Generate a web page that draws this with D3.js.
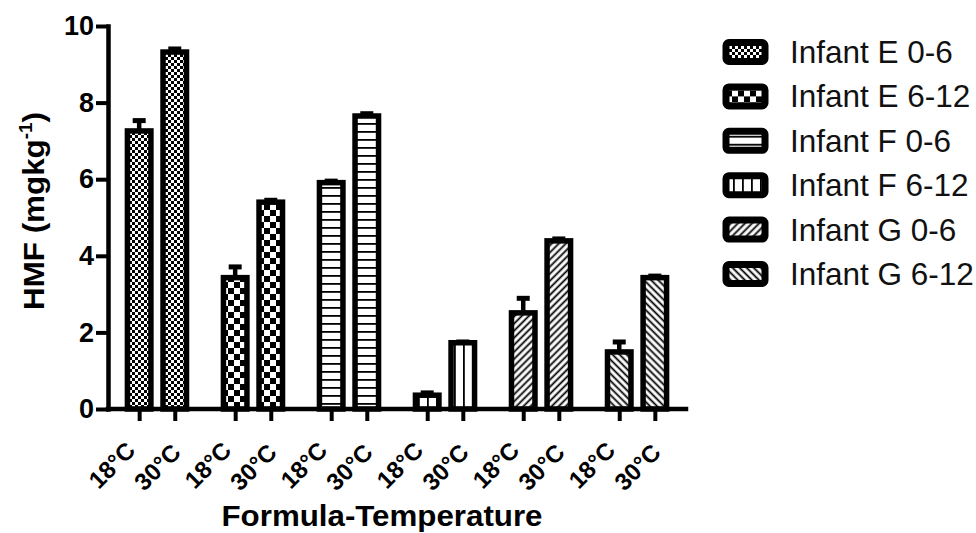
<!DOCTYPE html>
<html>
<head>
<meta charset="utf-8">
<script src="https://cdn.jsdelivr.net/npm/d3@7"></script>
<style>
  body { margin: 0; background: #fff; }
  text { font-family: "Liberation Sans", Arial, sans-serif; }
</style>
</head>
<body>
<div id="chart"></div>
<script>
// Data
const groups = ["Infant E 0-6", "Infant E 6-12", "Infant F 0-6", "Infant F 6-12", "Infant G 0-6", "Infant G 6-12"];
const temps = ["18°C", "30°C"];
const hmf18 = [7.26, 3.43, 5.91, 0.36, 2.51, 1.49];
const hmf30 = [9.32, 5.40, 7.65, 1.73, 4.39, 3.43];
const err18 = [0.27, 0.28, 0.04, 0.06, 0.38, 0.26];
const err30 = [0.08, 0.05, 0.06, 0.02, 0.05, 0.04];
const yTicks = [0, 2, 4, 6, 8, 10];
const patternIds = ["checkFine", "checkCoarse", "hLines", "vLines", "diagUp", "diagDown"];

// Layout
const width = 976;
const height = 533;
const axisLeftX = 108;
const axisRightX = 686;
const axisTopY = 26;
const axisBottomY = 409;
const barWidth = 23.5;
const barStroke = 5.5;

const svg = d3.select("#chart")
    .append("svg")
    .attr("width", width)
    .attr("height", height);

// Patterns
const defs = svg.append("defs");
const makePattern = function(id, w, h, transform) {
    const p = defs.append("pattern")
        .attr("id", id)
        .attr("patternUnits", "userSpaceOnUse")
        .attr("width", w)
        .attr("height", h);
    if (transform) { p.attr("patternTransform", transform); }
    p.append("rect").attr("width", w).attr("height", h).attr("fill", "#fff");
    return p;
};
let p = makePattern("checkFine", 6, 6);
p.append("rect").attr("width", 3).attr("height", 3).attr("fill", "#000");
p.append("rect").attr("x", 3).attr("y", 3).attr("width", 3).attr("height", 3).attr("fill", "#000");
p = makePattern("checkCoarse", 12, 12);
p.append("rect").attr("width", 6).attr("height", 6).attr("fill", "#000");
p.append("rect").attr("x", 6).attr("y", 6).attr("width", 6).attr("height", 6).attr("fill", "#000");
p = makePattern("hLines", 8, 8);
p.append("rect").attr("y", 3).attr("width", 8).attr("height", 1.8).attr("fill", "#000");
p = makePattern("vLines", 9, 9);
p.append("rect").attr("x", 4).attr("width", 1.8).attr("height", 9).attr("fill", "#000");
p = makePattern("diagUp", 5, 5, "rotate(45)");
p.append("rect").attr("x", 1.5).attr("width", 1.8).attr("height", 5).attr("fill", "#000");
p = makePattern("diagDown", 5, 5, "rotate(-45)");
p.append("rect").attr("x", 1.5).attr("width", 1.8).attr("height", 5).attr("fill", "#000");

// Scales
const yScale = d3.scaleLinear()
    .domain([0, 10])
    .range([axisBottomY, axisTopY]);
const groupScale = d3.scalePoint()
    .domain(groups)
    .range([axisLeftX, axisRightX])
    .padding(0.51);
const tempScale = d3.scalePoint()
    .domain(temps)
    .range([-17.8, 17.8]);

const bars = [];
groups.forEach((g, i) => {
    bars.push({group: g, temp: temps[0], value: hmf18[i], err: err18[i], pattern: patternIds[i]});
    bars.push({group: g, temp: temps[1], value: hmf30[i], err: err30[i], pattern: patternIds[i]});
});
const barKey = d => d.group + "|" + d.temp;
const barX = d => groupScale(d.group) + tempScale(d.temp);
const xScale = d3.scaleOrdinal()
    .domain(bars.map(barKey))
    .range(bars.map(barX));

// Bars
svg.append("g")
    .selectAll("rect")
    .data(bars)
    .join("rect")
    .attr("x", d => barX(d) - barWidth / 2)
    .attr("y", d => yScale(d.value))
    .attr("width", barWidth)
    .attr("height", d => yScale(0) - yScale(d.value))
    .attr("fill", d => `url(#${d.pattern})`)
    .attr("stroke", "#000")
    .attr("stroke-width", barStroke);

// Error bars
const errG = svg.append("g").attr("stroke", "#000");
errG.selectAll("line.stem")
    .data(bars)
    .join("line")
    .attr("class", "stem")
    .attr("x1", barX).attr("x2", barX)
    .attr("y1", d => yScale(d.value))
    .attr("y2", d => yScale(d.value + d.err))
    .attr("stroke-width", 4.5);
errG.selectAll("line.cap")
    .data(bars)
    .join("line")
    .attr("class", "cap")
    .attr("x1", d => barX(d) - 6.5).attr("x2", d => barX(d) + 6.5)
    .attr("y1", d => yScale(d.value + d.err))
    .attr("y2", d => yScale(d.value + d.err))
    .attr("stroke-width", 5);

// Y axis
const yAxis = svg.append("g")
    .attr("transform", `translate(${axisLeftX},0)`)
    .call(d3.axisLeft(yScale).tickValues(yTicks).tickSize(12).tickSizeOuter(0).tickPadding(2));
yAxis.select(".domain").attr("stroke-width", 4.5).attr("stroke-linecap", "square");
yAxis.selectAll(".tick line").attr("stroke-width", 4);
yAxis.selectAll(".tick text")
    .attr("font-size", 27)
    .attr("font-weight", "bold")
    .attr("font-family", "Liberation Sans, Arial, sans-serif")
    .attr("fill", "#000");

// X axis
svg.append("line")
    .attr("x1", axisLeftX).attr("x2", axisRightX)
    .attr("y1", axisBottomY).attr("y2", axisBottomY)
    .attr("stroke", "#000")
    .attr("stroke-width", 4.5)
    .attr("stroke-linecap", "square");
const xAxis = svg.append("g")
    .attr("transform", `translate(0,${axisBottomY})`)
    .call(d3.axisBottom(xScale).tickSize(12).tickSizeOuter(0).tickFormat(k => k.split("|")[1]));
xAxis.select(".domain").remove();
xAxis.selectAll(".tick line").attr("stroke-width", 4);
xAxis.selectAll(".tick text")
    .attr("y", null)
    .attr("dy", null)
    .attr("text-anchor", "end")
    .attr("transform", k => k.endsWith(temps[0]) ? "translate(-3,43) rotate(-45)" : "translate(7,45) rotate(-45)")
    .attr("font-size", 24)
    .attr("font-weight", "bold")
    .attr("font-family", "Liberation Sans, Arial, sans-serif")
    .attr("fill", "#000");

// Axis titles
svg.append("text")
    .attr("x", 382)
    .attr("y", 526)
    .attr("text-anchor", "middle")
    .attr("font-size", 29)
    .attr("font-weight", "bold")
    .attr("textLength", 321)
    .attr("lengthAdjust", "spacingAndGlyphs")
    .text("Formula-Temperature");

const yTitle = svg.append("text")
    .attr("transform", "translate(44,211) rotate(-90)")
    .attr("text-anchor", "middle")
    .attr("font-size", 30)
    .attr("font-weight", "bold")
    .attr("textLength", 198)
    .attr("lengthAdjust", "spacingAndGlyphs");
yTitle.append("tspan").text("HMF (mgkg");
yTitle.append("tspan").attr("font-size", 18).attr("dy", -12).text("-1");
yTitle.append("tspan").attr("dy", 12).text(")");

// Legend
const legend = svg.append("g")
    .selectAll("g")
    .data(groups)
    .join("g")
    .attr("transform", (d, i) => `translate(0,${52 + i * 44.4})`);
legend.append("rect")
    .attr("x", 726)
    .attr("y", -9.5)
    .attr("width", 39)
    .attr("height", 19)
    .attr("rx", 3)
    .attr("fill", (d, i) => `url(#${patternIds[i]})`)
    .attr("stroke", "#000")
    .attr("stroke-width", 7);
legend.append("text")
    .attr("x", 790)
    .attr("y", 11)
    .attr("font-size", 31.5)
    .attr("fill", "#111")
    .text(d => d);
</script>
</body>
</html>
